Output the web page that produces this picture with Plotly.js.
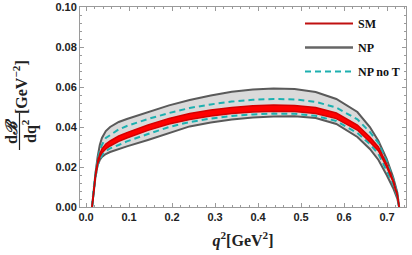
<!DOCTYPE html>
<html>
<head>
<meta charset="utf-8">
<script src="https://cdn.plot.ly/plotly-3.0.1.min.js"></script>
<style>html,body{margin:0;padding:0;background:#fff;}#plot{width:412px;height:255px;}</style>
</head>
<body>
<div id="plot"></div>
<script>
// q^2 sample points (GeV^2)
const q2 = [0.014,0.017,0.022,0.027,0.032,0.037,0.046,0.056,0.076,0.095,0.144,0.193,0.241,0.29,0.339,0.388,0.436,0.485,0.534,0.582,0.631,0.66,0.68,0.699,0.714,0.724,0.728];
// NP band
const npHi = [0,0.008,0.017,0.025,0.031,0.0345,0.038,0.040,0.0425,0.044,0.0475,0.0508,0.0535,0.0558,0.0576,0.0587,0.0592,0.0590,0.0575,0.054,0.0475,0.040,0.033,0.024,0.015,0.007,0];
const npLo = [0,0.007,0.015,0.021,0.0235,0.025,0.0265,0.0275,0.029,0.0303,0.0335,0.037,0.0403,0.0423,0.0437,0.0447,0.0453,0.0454,0.0445,0.0415,0.035,0.029,0.0235,0.016,0.0095,0.004,0];
// SM band
const smHi = [0,0.0075,0.016,0.0225,0.0265,0.029,0.0315,0.033,0.0355,0.0372,0.041,0.0443,0.0467,0.0485,0.0498,0.0506,0.051,0.0508,0.0497,0.047,0.041,0.035,0.030,0.0215,0.0135,0.006,0];
const smLo = [0,0.007,0.0155,0.0215,0.025,0.027,0.029,0.0305,0.0328,0.0345,0.0383,0.0415,0.0438,0.0455,0.0467,0.0475,0.0479,0.0478,0.0468,0.0442,0.0385,0.0325,0.028,0.020,0.0125,0.0055,0];
// NP without tensor
const ntHi = [0,0.008,0.0165,0.0235,0.028,0.031,0.0345,0.036,0.0388,0.0405,0.044,0.047,0.0495,0.0513,0.0527,0.0536,0.054,0.0538,0.0526,0.0497,0.0438,0.0375,0.032,0.0228,0.0142,0.0065,0];
const ntLo = [0,0.007,0.015,0.021,0.024,0.026,0.028,0.0293,0.031,0.0328,0.0365,0.040,0.0425,0.0442,0.0455,0.0463,0.0467,0.0466,0.0456,0.043,0.037,0.0315,0.0265,0.0185,0.0115,0.005,0];

const seriesNames = ['SM','NP','NP no T'];
const xTicks = [0.0,0.1,0.2,0.3,0.4,0.5,0.6,0.7];
const xTickLabels = ['0.0','0.1','0.2','0.3','0.4','0.5','0.6','0.7'];
const yTicks = [0.00,0.02,0.04,0.06,0.08,0.10];
const yTickLabels = ['0.00','0.02','0.04','0.06','0.08','0.10'];

const RED='#d40000', REDFILL='#ff0000', GRAY='#5a5a5a', GRAYFILL='#dadada', TEAL='#1db0b0';
const DASH='6px,4px';

const traces = [
  {x:q2,y:npLo,mode:'lines',line:{color:GRAY,width:2},showlegend:false,hoverinfo:'skip'},
  {x:q2,y:npHi,mode:'lines',line:{color:GRAY,width:2},fill:'tonexty',fillcolor:GRAYFILL,showlegend:false},
  {x:q2,y:ntLo,mode:'lines',line:{color:TEAL,width:2,dash:DASH},showlegend:false},
  {x:q2,y:ntHi,mode:'lines',line:{color:TEAL,width:2,dash:DASH},showlegend:false},
  {x:q2,y:smLo,mode:'lines',line:{color:RED,width:1.5},showlegend:false},
  {x:q2,y:smHi,mode:'lines',line:{color:RED,width:1.5},fill:'tonexty',fillcolor:REDFILL,showlegend:false},
  // legend entries (line samples only)
  {x:[null],y:[null],mode:'lines',line:{color:'#c01010',width:2},name:seriesNames[0],legendgroup:'a'},
  {x:[null],y:[null],mode:'lines',line:{color:'#666',width:2.5},name:seriesNames[1],legendgroup:'b'},
  {x:[null],y:[null],mode:'lines',line:{color:TEAL,width:2,dash:DASH},name:seriesNames[2],legendgroup:'c'}
];

const L=80,R=6,T=7,B=48,W=412,H=255;
const pw=W-L-R, ph=H-T-B;
const xp = px => (px-L)/pw;
const yp = py => (H-B-py)/ph;

const serif = 'Liberation Serif, Times New Roman, serif';
const axisCommon = {
  showline:true, mirror:'ticks', linecolor:'#9a9a9a', linewidth:1,
  ticks:'inside', ticklen:4, tickcolor:'#9a9a9a', tickwidth:1,
  showgrid:false, zeroline:false,
  tickfont:{family:'Liberation Sans, Arial, sans-serif', size:11, color:'#222', weight:'bold'}
};

const layout = {
  width:W, height:H,
  margin:{l:L,r:R,t:T,b:B,pad:0},
  paper_bgcolor:'#fff', plot_bgcolor:'#fff',
  showlegend:true,
  legend:{x:xp(300), y:yp(9), xanchor:'left', yanchor:'top', bgcolor:'rgba(0,0,0,0)',
    font:{family:serif, size:12, color:'#111', weight:'bold'}, traceorder:'grouped', tracegroupgap:5, itemwidth:48},
  xaxis:Object.assign({}, axisCommon, {range:[-0.014,0.744], tickvals:xTicks, ticktext:xTickLabels,
    minor:{dtick:0.02, ticklen:2, tickcolor:'#9a9a9a', ticks:'inside'},
    title:{text:'<i>q</i><sup>2</sup>[GeV<sup>2</sup>]', font:{family:serif, size:16, color:'#222', weight:'bold'}, standoff:12}}),
  yaxis:Object.assign({}, axisCommon, {range:[0,0.1], tickvals:yTicks, ticktext:yTickLabels,
    minor:{dtick:0.004, ticklen:2, tickcolor:'#9a9a9a', ticks:'inside'}}),
  annotations:[
    {xref:'paper',yref:'paper',x:xp(11),y:yp(131),xanchor:'center',yanchor:'middle',textangle:-90,showarrow:false,
      text:'d<i>ℬ</i>',font:{family:serif,size:16,color:'#222',weight:'bold'}},
    {xref:'paper',yref:'paper',x:xp(29),y:yp(131),xanchor:'center',yanchor:'middle',textangle:-90,showarrow:false,
      text:'dq<sup>2</sup>',font:{family:serif,size:16,color:'#222',weight:'bold'}},
    {xref:'paper',yref:'paper',x:xp(20),y:yp(87),xanchor:'center',yanchor:'middle',textangle:-90,showarrow:false,
      text:'[GeV<sup>−2</sup>]',font:{family:serif,size:16,color:'#222',weight:'bold'}}
  ],
  shapes:[
    {type:'line',xref:'paper',yref:'paper',x0:xp(19.5),x1:xp(19.5),y0:yp(113),y1:yp(150),line:{color:'#222',width:1.2}}
  ]
};

Plotly.newPlot('plot', traces, layout, {staticPlot:true, displayModeBar:false});
</script>
</body>
</html>
